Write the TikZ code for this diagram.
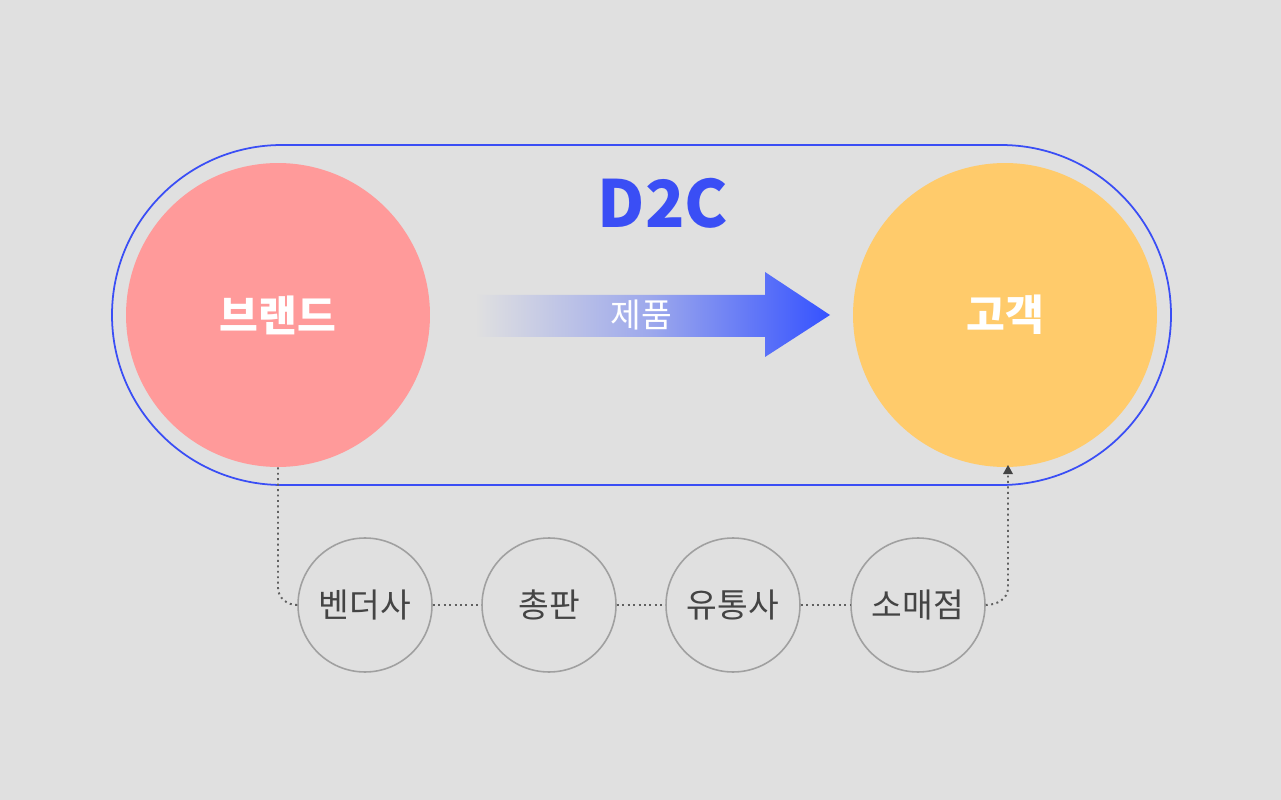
\documentclass[tikz,border=0pt]{standalone}
\usepackage{fontspec}
\setmainfont{Noto Sans CJK KR}
\definecolor{bggray}{HTML}{E0E0E0}
\definecolor{dtcblue}{HTML}{3A4EF5}
\definecolor{arrowblue}{HTML}{3552FF}
\definecolor{brandpink}{HTML}{FF9A9A}
\definecolor{custyellow}{HTML}{FFCB6B}
\definecolor{midgray}{HTML}{A0A0A0}
\definecolor{txtgray}{HTML}{444444}
\tikzset{
  bigcircle/.style={circle, minimum size=6.08cm, inner sep=0pt, text=white, font=\bfseries\fontsize{24}{28}\selectfont},
  channel/.style={circle, draw=midgray, line width=0.9pt, fill=bggray, minimum size=2.68cm, inner sep=0pt, text=txtgray, font=\fontsize{19}{23}\selectfont},
  dotline/.style={dotted, line width=1.1pt, txtgray!85}
}
\begin{document}
\begin{tikzpicture}[x=0.02cm, y=-0.02cm]
\fill[bggray] (0,0) rectangle (1281,800);
\useasboundingbox (0,0) rectangle (1281,800);

% Outer D2C stadium
\draw[dtcblue, line width=1pt, rounded corners=3.4cm] (112,145) rectangle (1171,485);
\node[text=dtcblue, font=\bfseries\fontsize{37}{40}\selectfont] (d2c) at (663,203) {D2C};

% Main circles
\node[bigcircle, fill=brandpink] (brand) at (278,315) {브랜드};
\node[bigcircle, fill=custyellow] (cust) at (1005,315) {고객};

% Product arrow
\shade[left color=bggray, right color=arrowblue, middle color=arrowblue!40!bggray]
  (475,295) -- (765,295) -- (765,272) -- (830,315) -- (765,357) -- (765,337) -- (475,337) -- cycle;
\node[text=white, font=\fontsize{19}{23}\selectfont] (prod) at (641,315) {제품};

% Channel circles
\node[channel] (vendor) at (365,605) {벤더사};
\node[channel] (dist) at (549,605) {총판};
\node[channel] (retail) at (733,605) {유통사};
\node[channel] (shop) at (918,605) {소매점};

% Dotted connectors
\draw[dotline] (brand.south) -- (278,588) to[out=-90, in=180] (vendor.west);
\draw[dotline] (vendor) -- (dist);
\draw[dotline] (dist) -- (retail);
\draw[dotline] (retail) -- (shop);
\draw[dotline] (shop.east) to[out=0, in=-90] (1008,588) -- (1008,474);
\fill[txtgray] (1008,465) -- (1003,474) -- (1013,474) -- cycle;
\end{tikzpicture}
\end{document}
